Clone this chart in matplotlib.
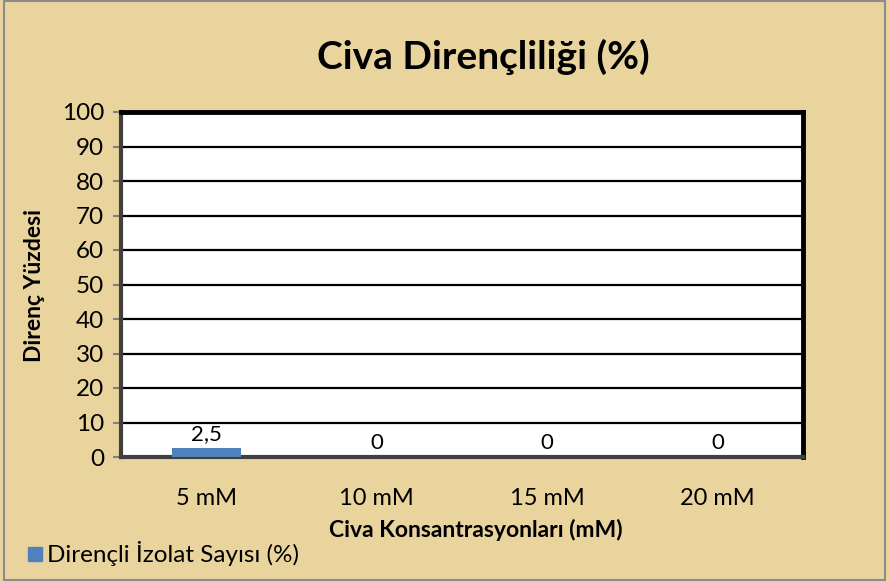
import numpy as np
import matplotlib.pyplot as plt
from matplotlib.patches import Rectangle

plt.rcParams['font.family'] = ['Lato', 'DejaVu Sans']

categories = ['5 mM', '10 mM', '15 mM', '20 mM']
values = [2.5, 0, 0, 0]
value_labels = ['2,5', '0', '0', '0']
yticks = list(range(0, 101, 10))

bg = '#EAD49E'
bar_color = '#4F81BD'

fig = plt.figure(figsize=(8.89, 5.82), dpi=100, facecolor=bg)
fig.patches.append(Rectangle((0.004, 0.003), 0.992, 0.995, transform=fig.transFigure,
                             fill=False, edgecolor='#8c8c8c', linewidth=1.5))

ax = fig.add_axes([121 / 889, 1 - 457 / 582, (803 - 121) / 889, (457 - 112) / 582])
ax.set_facecolor('white')

x = np.arange(len(categories))
ax.bar(x, values, width=0.405, color=bar_color, zorder=3)
for xi, v, lab in zip(x, values, value_labels):
    ax.text(xi, v + 1.2, lab, ha='center', va='bottom', fontsize=16, color='black')

ax.set_xlim(-0.5, len(categories) - 0.5)
ax.set_ylim(0, 100)
ax.set_yticks(yticks)
ax.set_xticks(x)
ax.set_xticklabels(categories, fontsize=17)
ax.tick_params(axis='y', labelsize=17.5, length=6, width=1.5, color='#808080', pad=6)
ax.tick_params(axis='x', length=0, pad=22)
ax.grid(axis='y', color='black', linewidth=1.6, zorder=1)

for side in ['top', 'right']:
    ax.spines[side].set_linewidth(3.5)
    ax.spines[side].set_color('black')
for side in ['left', 'bottom']:
    ax.spines[side].set_linewidth(3)
    ax.spines[side].set_color('#404040')

fig.text(483 / 889, 1 - 57 / 582, 'Civa Dirençliliği (%)', ha='center', va='center',
         fontsize=28, fontweight='bold')
fig.text(35 / 889, 1 - 285 / 582, 'Direnç Yüzdesi', rotation=90, ha='center', va='center',
         fontsize=16.5, fontweight='bold')
fig.text(476 / 889, 1 - 530 / 582, 'Civa Konsantrasyonları (mM)', ha='center', va='center',
         fontsize=16.5, fontweight='bold')

# legend entry along the bottom edge
fig.patches.append(Rectangle((28 / 889, 1 - 561 / 582), 14 / 889, 14 / 582,
                             transform=fig.transFigure, color=bar_color))
fig.text(47 / 889, 1 - 554 / 582, 'Dirençli İzolat Sayısı (%)', ha='left', va='center',
         fontsize=17.5)

fig.savefig('out.png', dpi=100, facecolor=bg)
